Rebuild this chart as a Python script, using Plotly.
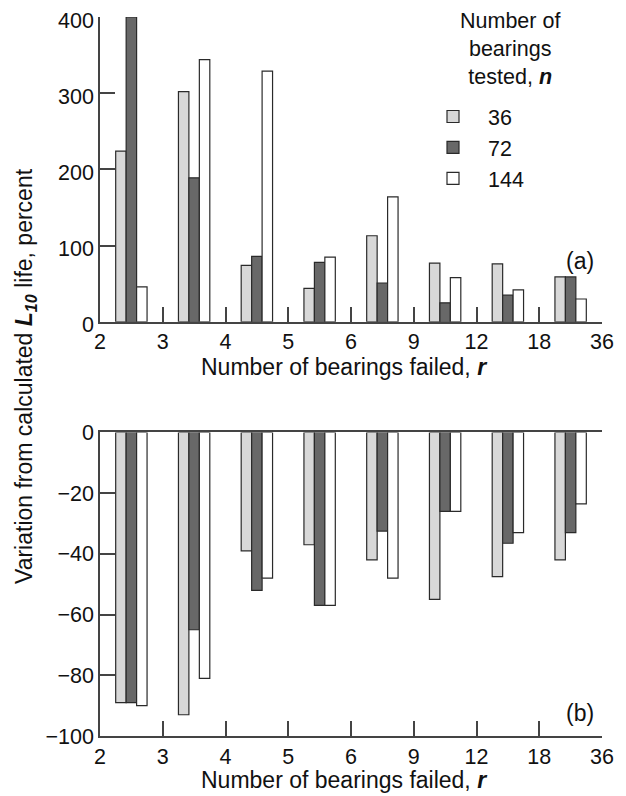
import plotly.graph_objects as go
from plotly.subplots import make_subplots

# ---- data ----
tick_labels = ["2", "3", "4", "5", "6", "9", "12", "18", "36"]
group_pos = [0.5, 1.5, 2.5, 3.5, 4.5, 5.5, 6.5, 7.5]
series_names = ["36", "72", "144"]

life_36 = [224, 302, 74, 44, 113, 77, 76, 59]
life_72 = [400, 189, 86, 78, 51, 25, 35, 59]
life_144 = [46, 344, 329, 85, 164, 58, 42, 30]

var_36 = [-89, -93, -39, -37, -42, -55, -47.5, -42]
var_72 = [-89, -65, -52, -57, -32.5, -26, -36.5, -33]
var_144 = [-90, -81, -48, -57, -48, -26, -33, -23.5]

colors = ["#d8d8d8", "#686868", "#ffffff"]
FONT = "Liberation Sans, Arial, Helvetica, sans-serif"
FS_TICK = 21.5
FS_TITLE = 23
FS_LEG = 21.5

# page has an 8px body margin; figure sized so plot area lands where the reference has it
W, H = 610, 788
L, R, T, B = 92, 16, 9, 60
PH = H - T - B  # plot height in px (719)


def px(xpage):
    return (xpage - 100) / (W - L - R)


def py(ypage):
    return (736 - ypage) / PH


fig = make_subplots(rows=2, cols=1, shared_xaxes=False, vertical_spacing=0.0)

top = [life_36, life_72, life_144]
bot = [var_36, var_72, var_144]
for i, name in enumerate(series_names):
    fig.add_trace(go.Bar(x=group_pos, y=top[i], name=name, legendgroup=name,
                         marker=dict(color=colors[i], line=dict(color="#2a2a2a", width=1.2)),
                         showlegend=True), row=1, col=1)
    fig.add_trace(go.Bar(x=group_pos, y=bot[i], name=name, legendgroup=name,
                         marker=dict(color=colors[i], line=dict(color="#2a2a2a", width=1.2)),
                         showlegend=False), row=2, col=1)

axis_common = dict(showgrid=False, zeroline=False, showline=True, linecolor="#444",
                   linewidth=1.5, ticks="inside", ticklen=15, tickwidth=1.5, tickcolor="#444",
                   automargin=False, ticklabeloverflow="allow",
                   tickfont=dict(family=FONT, size=FS_TICK, color="#111"))

fig.update_xaxes(range=[0, 8], tickmode="array", tickvals=list(range(9)), ticktext=tick_labels,
                 **axis_common)
fig.update_yaxes(**axis_common)

fig.update_layout(
    xaxis=dict(domain=[0, 1]),
    yaxis=dict(domain=[0.576, 1], range=[0, 400], tickvals=[0, 100, 200, 300, 400],
               ticklabelshift=3),
    xaxis2=dict(domain=[0, 1], mirror=True),
    yaxis2=dict(domain=[0, 0.4222], range=[-100, 0], tickvals=[-100, -80, -60, -40, -20, 0]),
)

fig.update_layout(
    width=W, height=H,
    margin=dict(l=L, r=R, t=T, b=B, autoexpand=False),
    paper_bgcolor="white", plot_bgcolor="white",
    barmode="group", bargap=0.5, bargroupgap=0.0,
    font=dict(family=FONT, size=FS_TICK, color="#111"),
    legend=dict(x=px(418), y=py(96), xanchor="left", yanchor="top",
                bgcolor="rgba(0,0,0,0)", font=dict(family=FONT, size=FS_LEG, color="#111"),
                tracegroupgap=0, itemwidth=60),
    showlegend=True,
)

ann_font = dict(family=FONT, size=FS_TITLE, color="#111")
fig.add_annotation(text="Number of<br>bearings<br>tested, <b><i>n</i></b>", xref="paper", yref="paper",
                   x=px(510), y=py(7), xanchor="center", yanchor="top",
                   showarrow=False, align="center", font=dict(family=FONT, size=FS_LEG, color="#111"))
fig.add_annotation(text="(a)", xref="paper", yref="paper", x=px(580), y=py(261),
                   xanchor="center", yanchor="middle", showarrow=False, font=ann_font)
fig.add_annotation(text="(b)", xref="paper", yref="paper", x=px(580), y=py(713),
                   xanchor="center", yanchor="middle", showarrow=False, font=ann_font)
fig.add_annotation(text="Number of bearings failed, <b><i>r</i></b>", xref="paper", yref="paper",
                   x=px(344), y=py(367), xanchor="center", yanchor="middle",
                   showarrow=False, font=ann_font)
fig.add_annotation(text="Number of bearings failed, <b><i>r</i></b>", xref="paper", yref="paper",
                   x=px(344), y=py(780), xanchor="center", yanchor="middle",
                   showarrow=False, font=ann_font)
fig.add_annotation(text="Variation from calculated <b><i>L</i></b><sub><b><i>10</i></b></sub> life, percent",
                   xref="paper", yref="paper", x=px(25), y=py(376), xanchor="center", yanchor="middle",
                   textangle=-90, showarrow=False, font=ann_font)

fig.write_html("out.html")
